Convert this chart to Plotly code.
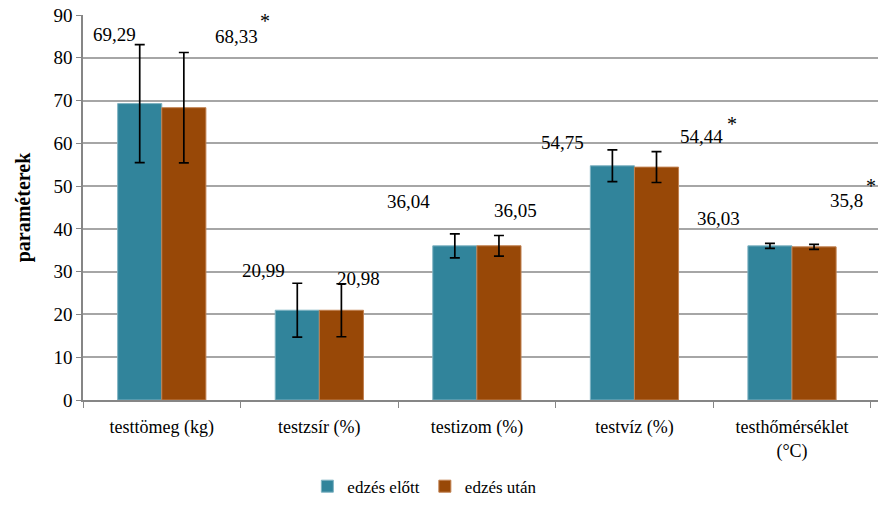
import plotly.graph_objects as go

# Body composition measurements before and after training
categories = ["testtömeg (kg)", "testzsír (%)", "testizom (%)", "testvíz (%)",
              "testhőmérséklet<br>(°C)"]
before = [69.29, 20.99, 36.04, 54.75, 36.03]
after = [68.33, 20.98, 36.05, 54.44, 35.8]
before_sd = [13.8, 6.3, 2.8, 3.7, 0.6]
after_sd = [12.9, 6.2, 2.4, 3.6, 0.6]
before_labels = ["69,29", "20,99", "36,04", "54,75", "36,03"]
after_labels = ["68,33", "20,98", "36,05", "54,44", "35,8"]
significant = [True, False, False, True, True]

# Label placement (pixel offset from category centre, height in axis units)
before_lab_shift = [-47, -56, -68, -72, -74]
before_lab_y = [85.4, 30.3, 46.3, 60.1, 42.4]
after_lab_shift = [75, 39, 39, 67, 54]
after_lab_y = [84.9, 28.3, 44.2, 61.5, 46.7]
star_shift = [103, 0, 0, 98, 79]
star_y = [88.6, 0, 0, 64.6, 50.1]

FONT = "Liberation Serif, Times New Roman, serif"
BLUE = "#31849B"
BROWN = "#984807"

fig = go.Figure()
fig.add_trace(go.Bar(
    name="edzés előtt", x=categories, y=before,
    marker=dict(color=BLUE, line=dict(color="#7fb3c2", width=1)),
    error_y=dict(type="data", array=before_sd, color="black", thickness=1.7, width=5),
))
fig.add_trace(go.Bar(
    name="edzés után", x=categories, y=after,
    marker=dict(color=BROWN, line=dict(color="#c08050", width=1)),
    error_y=dict(type="data", array=after_sd, color="black", thickness=1.7, width=5),
))

annotations = []
for i, cat in enumerate(categories):
    annotations.append(dict(x=cat, y=before_lab_y[i], xshift=before_lab_shift[i],
                            text=before_labels[i], showarrow=False,
                            font=dict(family=FONT, size=19, color="black")))
    annotations.append(dict(x=cat, y=after_lab_y[i], xshift=after_lab_shift[i],
                            text=after_labels[i], showarrow=False,
                            font=dict(family=FONT, size=19, color="black")))
    if significant[i]:
        annotations.append(dict(x=cat, y=star_y[i], xshift=star_shift[i],
                                text="*", showarrow=False,
                                font=dict(family=FONT, size=20, color="black")))

fig.update_layout(
    width=883, height=510,
    margin=dict(l=83, r=5, t=15, b=105),
    paper_bgcolor="white", plot_bgcolor="white",
    barmode="group", bargap=0.44, bargroupgap=0,
    font=dict(family=FONT, size=17, color="black"),
    annotations=annotations,
    showlegend=True,
    legend=dict(orientation="h", x=0.43, xanchor="center", y=-0.225, yanchor="middle",
                font=dict(family=FONT, size=17), itemwidth=30, traceorder="normal"),
    xaxis=dict(showline=True, linecolor="#868686", linewidth=1.5, automargin=False,
               ticks="outside", tickson="boundaries", ticklen=6, tickcolor="#868686",
               ticklabelstandoff=10,
               tickfont=dict(family=FONT, size=18), showgrid=False),
    yaxis=dict(range=[0, 90], dtick=10, showline=True, linecolor="#868686", linewidth=1.5,
               ticks="outside", ticklen=5, tickcolor="#868686", automargin=False,
               gridcolor="#A6A6A6", gridwidth=1.5, zeroline=False,
               tickfont=dict(family=FONT, size=19),
               title=dict(text="<b>paraméterek</b>", font=dict(family=FONT, size=20),
                          standoff=17)),
)

fig.write_html("out.html")
